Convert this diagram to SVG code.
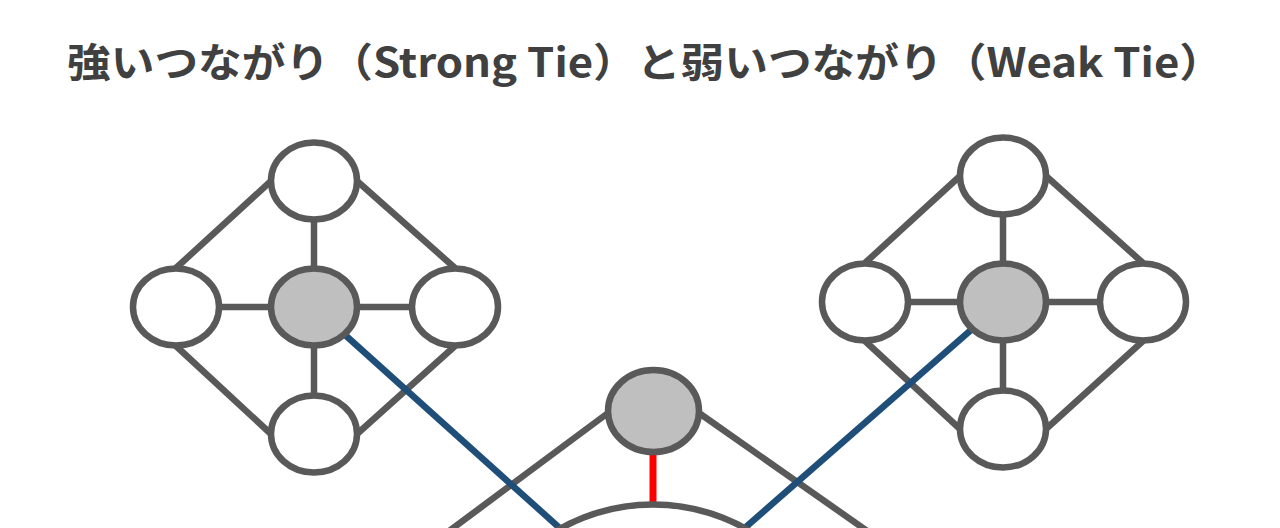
<svg xmlns="http://www.w3.org/2000/svg" width="1280" height="528" viewBox="0 0 1280 528">
  <style>
    .title { font-family: "Noto Sans CJK JP", "Noto Sans", sans-serif; font-weight: bold; font-size: 40px; fill: #404040; }
    .edge { stroke: #595959; stroke-width: 6.5; fill: none; stroke-linecap: butt; }
    .weak { stroke: #1f4e79; stroke-width: 6.5; fill: none; }
    .bridge { stroke: #ff0000; stroke-width: 7; fill: none; }
    .node { fill: #ffffff; stroke: #595959; stroke-width: 6.5; }
    .hub { fill: #bfbfbf; stroke: #595959; stroke-width: 6.5; }
  </style>
  <rect width="1280" height="528" fill="#ffffff"/>
  <text class="title" x="67" y="77" textLength="1156" lengthAdjust="spacingAndGlyphs">強いつながり（Strong Tie）と弱いつながり（Weak Tie）</text>

  <g id="connectors">
    <!-- left cluster -->
    <line class="edge" x1="176" y1="268" x2="271" y2="181"/>
    <line class="edge" x1="357" y1="181" x2="455" y2="268"/>
    <line class="edge" x1="176" y1="346" x2="271" y2="434"/>
    <line class="edge" x1="455" y1="346" x2="357" y2="434"/>
    <line class="edge" x1="314" y1="181" x2="314" y2="434"/>
    <line class="edge" x1="176" y1="307" x2="455" y2="307"/>
    <!-- right cluster -->
    <line class="edge" x1="865" y1="263" x2="960" y2="176"/>
    <line class="edge" x1="1046" y1="176" x2="1143" y2="263"/>
    <line class="edge" x1="865" y1="341" x2="960" y2="429"/>
    <line class="edge" x1="1143" y1="341" x2="1046" y2="429"/>
    <line class="edge" x1="1003" y1="176" x2="1003" y2="429"/>
    <line class="edge" x1="865" y1="302" x2="1143" y2="302"/>
    <!-- middle node links -->
    <line class="edge" x1="608" y1="413" x2="437" y2="540"/>
    <line class="edge" x1="699" y1="413" x2="880" y2="540"/>
    <!-- weak ties -->
    <line class="weak" x1="314" y1="307" x2="573" y2="540"/>
    <line class="weak" x1="1003" y1="302" x2="731" y2="540"/>
    <!-- bridge -->
    <line class="bridge" x1="653" y1="450" x2="653" y2="506"/>
  </g>

  <g id="left-top"><ellipse class="node" cx="314" cy="181" rx="43" ry="38.5"/></g>
  <g id="left-left"><ellipse class="node" cx="176" cy="307" rx="43" ry="38.5"/></g>
  <g id="left-right"><ellipse class="node" cx="455" cy="307" rx="43" ry="38.5"/></g>
  <g id="left-bottom"><ellipse class="node" cx="314" cy="434" rx="43" ry="38.5"/></g>
  <g id="left-center"><ellipse class="hub" cx="314" cy="307" rx="43" ry="38.5"/></g>

  <g id="right-top"><ellipse class="node" cx="1003" cy="176" rx="43" ry="38.5"/></g>
  <g id="right-left"><ellipse class="node" cx="865" cy="302" rx="43" ry="38.5"/></g>
  <g id="right-right"><ellipse class="node" cx="1143" cy="302" rx="43" ry="38.5"/></g>
  <g id="right-bottom"><ellipse class="node" cx="1003" cy="429" rx="43" ry="38.5"/></g>
  <g id="right-center"><ellipse class="hub" cx="1003" cy="302" rx="43" ry="38.5"/></g>

  <g id="middle-hub"><ellipse class="hub" cx="653.5" cy="411" rx="45.5" ry="41"/></g>
  <g id="bottom-node"><ellipse class="node" cx="653" cy="690" rx="188" ry="185.5"/></g>
</svg>
